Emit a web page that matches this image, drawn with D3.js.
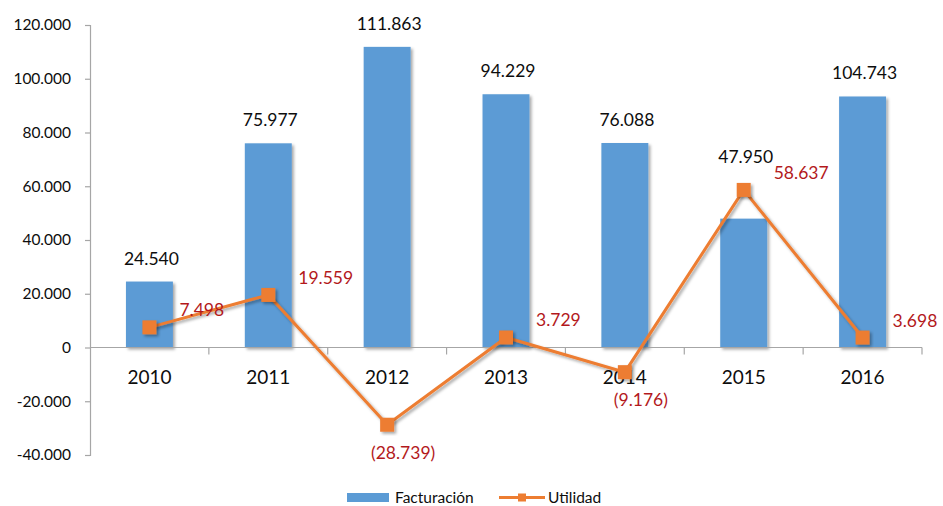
<!DOCTYPE html>
<html><head><meta charset="utf-8">
<script src="https://cdn.jsdelivr.net/npm/d3@7"></script>
<style>
html,body{margin:0;padding:0;background:#fff;}
svg{display:block;font-family:Lato,"Open Sans",sans-serif;}
</style></head>
<body>
<svg id="chart" width="943" height="506"></svg>
<script>
// ---- data ----
const years = ["2010","2011","2012","2013","2014","2015","2016"];
// bar heights as drawn in the picture
const facturacion = [24540, 75977, 111863, 94229, 76088, 47950, 93400];
// bar data labels as printed
const facturacionLabels = ["24.540","75.977","111.863","94.229","76.088","47.950","104.743"];
const utilidad = [7498, 19559, -28739, 3729, -9176, 58637, 3698];
const utilidadLabels = ["7.498","19.559","(28.739)","3.729","(9.176)","58.637","3.698"];
const yTicks = [-40000,-20000,0,20000,40000,60000,80000,100000,120000];
const yTickLabels = ["-40.000","-20.000","0","20.000","40.000","60.000","80.000","100.000","120.000"];
const seriesNames = ["Facturación","Utilidad"];

// ---- layout ----
const svg = d3.select("#chart");
const blue = "#5B9BD5", orange = "#ED7D31", red = "#B3191C", axisCol = "#A6A6A6", ink = "#0d0d0d";
const x = d3.scaleBand().domain(years).range([90, 922]).paddingInner(0.605).paddingOuter(0.3025);
const xc = d3.scalePoint().domain(years).range([90, 922]).padding(0.5);
const y = d3.scaleLinear().domain([-40000, 120000]).range([455, 25]);

const defs = svg.append("defs");
const f = defs.append("filter").attr("id","sh").attr("x","-30%").attr("y","-30%").attr("width","160%").attr("height","160%");
f.append("feDropShadow").attr("dx",2).attr("dy",2).attr("stdDeviation",1.8).attr("flood-color","#000").attr("flood-opacity",0.35);

// bars
svg.append("g").selectAll("rect").data(years).join("rect")
  .attr("x", d => x(d))
  .attr("width", x.bandwidth())
  .attr("y", (d,i) => y(facturacion[i]))
  .attr("height", (d,i) => y(0) - y(facturacion[i]))
  .attr("fill", blue)
  .attr("filter","url(#sh)");

// y axis
const yAxis = d3.axisLeft(y).tickValues(yTicks).tickSize(5).tickPadding(14)
  .tickFormat((d,i) => yTickLabels[i]);
const gy = svg.append("g").attr("transform","translate(90,0)").call(yAxis);
gy.select(".domain").attr("stroke", axisCol).attr("stroke-width",1.2);
gy.selectAll(".tick line").attr("stroke", axisCol).attr("stroke-width",1.2);
gy.selectAll(".tick text").attr("fill",ink).style("font-size","15.5px").style("font-family","Lato");

// x axis at zero
const xAxis = d3.axisBottom(x).tickSize(0).tickFormat("");
const gx = svg.append("g").attr("transform",`translate(0,${y(0)})`).call(xAxis);
gx.select(".domain").attr("stroke", axisCol).attr("stroke-width",1.2).attr("d","M90,0H922");
gx.selectAll(".tick").remove();
// category separator ticks
const edges = years.map((v,i) => 90 + x.step()*(i+1));
gx.selectAll("line.sep").data(edges).join("line").attr("class","sep")
  .attr("x1", d => d).attr("x2", d => d).attr("y1",0).attr("y2",7)
  .attr("stroke", axisCol).attr("stroke-width",1.2);
// category labels
svg.append("g").selectAll("text").data(years).join("text")
  .attr("x", d => xc(d)).attr("y", y(0) + 36)
  .attr("text-anchor","middle").attr("fill",ink)
  .style("font-size","19px").text(d => d);

// bar value labels
svg.append("g").selectAll("text").data(years).join("text")
  .attr("x", d => xc(d) + 2)
  .attr("y", (d,i) => Math.min(y(facturacion[i]), y(utilidad[i]) - 10) - 17)
  .attr("text-anchor","middle").attr("fill",ink)
  .style("font-size","17.5px").text((d,i) => facturacionLabels[i]);

// line
const line = d3.line().x((d,i) => xc(years[i])).y(d => y(d));
svg.append("path").datum(utilidad).attr("d", line)
  .attr("fill","none").attr("stroke", orange).attr("stroke-width",3).attr("filter","url(#sh)");
svg.append("g").selectAll("rect").data(utilidad).join("rect")
  .attr("x",(d,i) => xc(years[i]) - 7).attr("y", d => y(d) - 7)
  .attr("width",14).attr("height",14).attr("fill", orange).attr("filter","url(#sh)");

// line value labels
svg.append("g").selectAll("text").data(utilidad).join("text")
  .attr("x",(d,i) => d < 0 ? xc(years[i]) + 16 : xc(years[i]) + 30)
  .attr("y", d => d < 0 ? y(d) + 34 : y(d) - 11)
  .attr("text-anchor", d => d < 0 ? "middle" : "start")
  .attr("fill", red).style("font-size","17.5px")
  .text((d,i) => utilidadLabels[i]);

// legend
const lg = svg.append("g");
lg.append("rect").attr("x",347).attr("y",493).attr("width",42).attr("height",9).attr("fill",blue);
lg.append("text").attr("x",395).attr("y",502.5).attr("fill",ink).style("font-size","15.5px").text(seriesNames[0]);
lg.append("line").attr("x1",499).attr("x2",545).attr("y1",497.5).attr("y2",497.5).attr("stroke",orange).attr("stroke-width",3);
lg.append("rect").attr("x",518).attr("y",493.5).attr("width",8).attr("height",8).attr("fill",orange);
lg.append("text").attr("x",548).attr("y",502.5).attr("fill",ink).style("font-size","15.5px").text(seriesNames[1]);
</script>
</body></html>
